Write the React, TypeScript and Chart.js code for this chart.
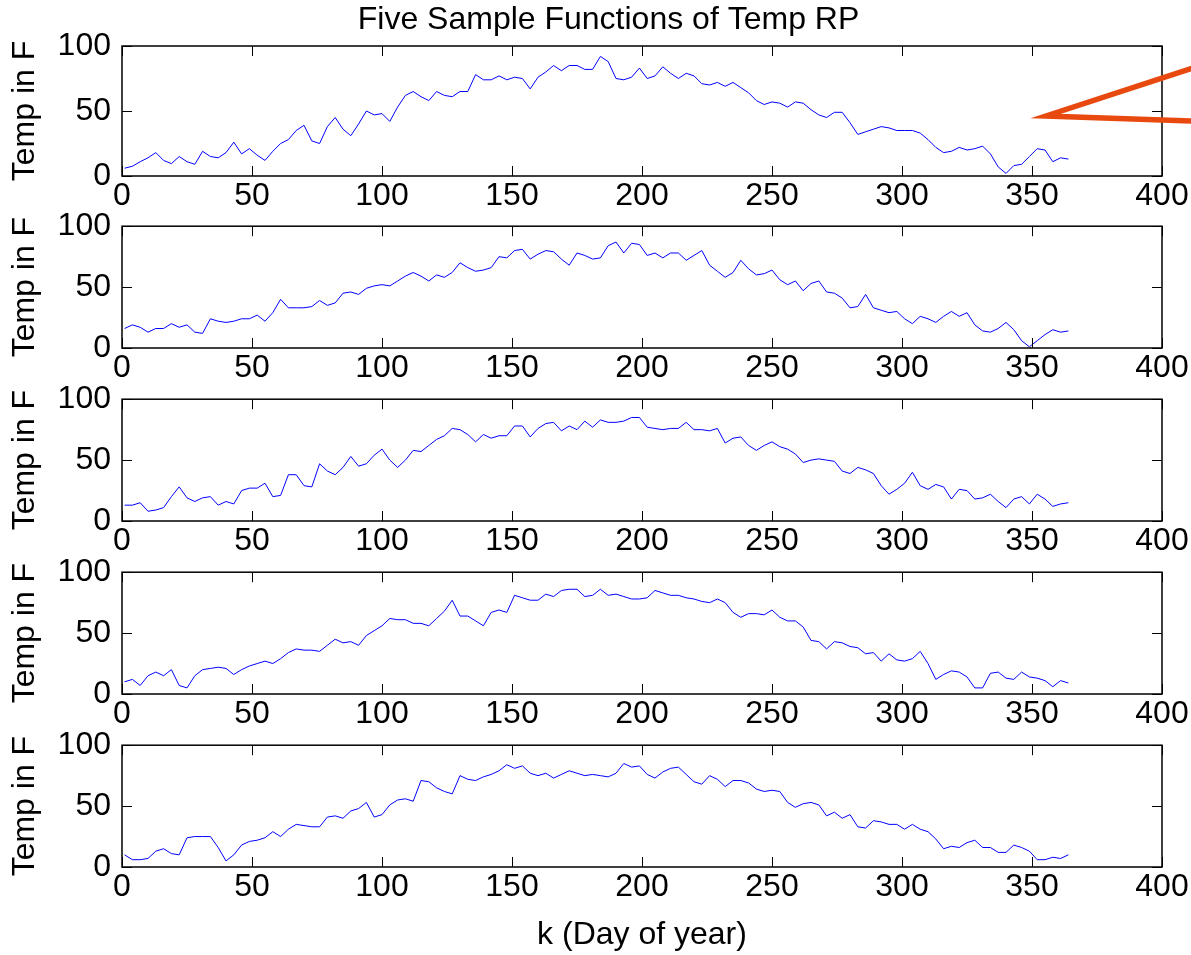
import React, { useEffect, useRef } from "react";
import { Chart, registerables } from "chart.js";

Chart.register(...registerables);

// ---------- data ----------
const TITLE = "Five Sample Functions of Temp RP";
const X_LABEL = "k (Day of year)";
const Y_LABEL = "Temp in F";

const X_TICKS = [0, 50, 100, 150, 200, 250, 300, 350, 400];
const Y_TICKS = [0, 50, 100];

const DAYS = [
  1, 4, 7, 10, 13, 16, 19, 22, 25, 28, 31, 34, 37, 40, 43, 46, 49, 52, 55, 58, 61, 64, 67, 70, 73, 76, 79, 82, 85, 88,
  91, 94, 97, 100, 103, 106, 109, 112, 115, 118, 121, 124, 127, 130, 133, 136, 139, 142, 145, 148, 151, 154, 157, 160,
  163, 166, 169, 172, 175, 178, 181, 184, 187, 190, 193, 196, 199, 202, 205, 208, 211, 214, 217, 220, 223, 226, 229,
  232, 235, 238, 241, 244, 247, 250, 253, 256, 259, 262, 265, 268, 271, 274, 277, 280, 283, 286, 289, 292, 295, 298,
  301, 304, 307, 310, 313, 316, 319, 322, 325, 328, 331, 334, 337, 340, 343, 346, 349, 352, 355, 358, 361, 364,
];

const TEMP_1 = [
  6, 7.5, 11, 14, 18, 12, 9.5, 15, 11, 9, 19, 15, 14, 18, 26, 17, 21, 16, 12, 19, 25, 28, 35, 39, 27, 25, 38, 45, 36, 31,
  40, 50, 47, 48, 42, 53, 62, 65, 61, 58, 65, 62, 61, 65, 65, 78, 74, 74, 77, 74, 76, 75, 67, 76, 80, 85, 81, 85, 85, 82,
  82, 92, 88, 75, 74, 76, 83, 75, 77, 84, 79, 75, 79, 77, 71, 70, 72, 69, 72, 68, 64, 58, 55, 57, 56, 53, 57, 56, 51, 47,
  45, 49, 49, 41, 32, 34, 36, 38, 37, 35, 35, 35, 33, 28, 22, 18, 19, 22, 20, 21, 23, 17, 7, 2, 8, 9, 15, 21, 20, 11, 14, 13,
];

const TEMP_2 = [
  16, 19, 17, 13, 16, 16, 20, 17, 19, 13, 12, 24, 22, 21, 22, 24, 24, 27, 22, 29, 40, 33, 33, 33, 34, 39, 35, 37, 45, 46,
  44, 49, 51, 52, 51, 55, 59, 62, 59, 55, 60, 58, 62, 70, 66, 63, 64, 66, 75, 74, 80, 81, 73, 77, 80, 79, 73, 68, 78, 76,
  73, 74, 84, 87, 78, 86, 85, 76, 78, 74, 78, 78, 72, 76, 80, 68, 63, 58, 62, 72, 65, 60, 61, 64, 56, 52, 55, 47, 53, 55,
  46, 45, 41, 33, 34, 44, 33, 31, 29, 30, 24, 20, 26, 24, 21, 26, 30, 26, 29, 19, 14, 13, 16, 21, 15, 6, 1, 6, 11, 15, 13, 14,
];

const TEMP_3 = [
  13, 13, 15, 8, 9, 11, 20, 28, 19, 16, 19, 20, 13, 16, 14, 25, 27, 27, 31, 20, 21, 38, 38, 29, 28, 47, 41, 38, 44, 53,
  45, 47, 54, 59, 50, 44, 50, 58, 57, 62, 67, 70, 76, 75, 71, 65, 71, 68, 70, 70, 78, 78, 69, 76, 80, 81, 74, 78, 75, 82,
  77, 83, 81, 81, 82, 85, 85, 77, 76, 75, 76, 76, 81, 75, 75, 74, 76, 64, 68, 69, 62, 58, 62, 65, 61, 59, 55, 48, 50, 51,
  50, 49, 41, 39, 44, 42, 39, 29, 22, 26, 31, 40, 29, 26, 30, 28, 18, 26, 25, 18, 19, 22, 16, 11, 18, 20, 14, 22, 18, 12, 14, 15,
];

const TEMP_4 = [
  10, 12, 7, 15, 18, 15, 20, 7, 5, 15, 20, 21, 22, 21, 16, 20, 23, 25, 27, 25, 29, 34, 37, 36, 36, 35, 40, 45, 42, 43,
  40, 48, 52, 56, 62, 61, 61, 58, 58, 56, 62, 68, 77, 64, 64, 60, 56, 67, 69, 67, 81, 79, 77, 77, 82, 80, 85, 86, 86, 80,
  81, 86, 81, 82, 80, 78, 78, 79, 85, 83, 81, 81, 79, 78, 76, 75, 78, 75, 67, 63, 66, 66, 65, 69, 63, 60, 60, 55, 44, 43,
  37, 43, 42, 39, 38, 33, 34, 27, 33, 28, 27, 29, 35, 25, 12, 16, 19, 18, 14, 5, 5, 17, 18, 13, 12, 18, 14, 13, 11, 6, 11, 9,
];

const TEMP_5 = [
  10, 6, 6, 7, 13, 15, 11, 10, 24, 25, 25, 25, 16, 5, 10, 18, 21, 22, 24, 29, 25, 31, 35, 34, 33, 33, 41, 42, 40, 46,
  48, 53, 41, 43, 51, 55, 56, 54, 71, 70, 65, 62, 60, 75, 72, 71, 74, 76, 79, 84, 81, 83, 77, 75, 77, 73, 76, 79, 77, 75,
  76, 75, 74, 77, 85, 82, 83, 76, 73, 78, 81, 82, 76, 70, 68, 75, 72, 66, 71, 71, 69, 64, 62, 63, 62, 53, 49, 52, 53, 51,
  42, 45, 40, 43, 33, 32, 38, 37, 35, 35, 31, 35, 31, 29, 23, 15, 17, 16, 20, 22, 16, 16, 12, 12, 18, 16, 13, 6, 6, 8, 7, 10,
];

const SERIES = [TEMP_1, TEMP_2, TEMP_3, TEMP_4, TEMP_5];

// callout arrow on the first panel, in data units (day, temp)
const ARROW_DAYS = [414.6, 355.4, 414.6];
const ARROW_TEMPS = [84.8, 46.2, 42.1];

// ---------- layout / style ----------
const FONT = "'Liberation Sans', Arial, Helvetica, sans-serif";
const FONT_SIZE = 32;
const PAGE_W = 1191;
const PAGE_H = 955;
const PLOT_LEFT = 122;
const PLOT_RIGHT = 1162;
const PLOT_H = 130;
const AXES_TOP = [46, 218, 391, 564, 737];
const TICK_LEN = 10;
const TITLE_SHIFT = 55; // left layout padding of the first panel, centres the title like the figure
const Y_TITLE_PAD = 6;

const boxPlugin = {
  id: "matlabBox",
  afterDatasetsDraw(chart: any) {
    const { ctx, chartArea } = chart;
    const { left, right, top, bottom } = chartArea;
    const xs = chart.scales.x;
    const ys = chart.scales.y;
    ctx.save();
    ctx.strokeStyle = "#000";
    ctx.lineWidth = 1;
    ctx.beginPath();
    X_TICKS.forEach((v) => {
      const px = Math.round(xs.getPixelForValue(v)) + 0.5;
      ctx.moveTo(px, bottom);
      ctx.lineTo(px, bottom - TICK_LEN);
      ctx.moveTo(px, top);
      ctx.lineTo(px, top + TICK_LEN);
    });
    Y_TICKS.forEach((v) => {
      const py = Math.round(ys.getPixelForValue(v)) + 0.5;
      ctx.moveTo(left, py);
      ctx.lineTo(left + TICK_LEN, py);
      ctx.moveTo(right, py);
      ctx.lineTo(right - TICK_LEN, py);
    });
    ctx.stroke();
    ctx.lineWidth = 1.5;
    ctx.strokeRect(left, top, right - left, bottom - top);
    ctx.restore();
  },
};

const arrowPlugin = {
  id: "calloutArrow",
  afterDraw(chart: any) {
    const { ctx } = chart;
    const xs = chart.scales.x;
    const ys = chart.scales.y;
    ctx.save();
    ctx.strokeStyle = "#E8490F";
    ctx.lineWidth = 5.5;
    ctx.lineJoin = "miter";
    ctx.miterLimit = 20;
    ctx.beginPath();
    ARROW_DAYS.forEach((d, i) => {
      const px = xs.getPixelForValue(d);
      const py = ys.getPixelForValue(ARROW_TEMPS[i]);
      if (i === 0) ctx.moveTo(px, py);
      else ctx.lineTo(px, py);
    });
    ctx.stroke();
    ctx.restore();
  },
};

function Subplot({ idx, values }: { idx: number; values: number[] }) {
  const ref = useRef<HTMLCanvasElement | null>(null);
  const first = idx === 0;
  const last = idx === SERIES.length - 1;
  const padTop = first ? 0 : 22;
  const padLeft = first ? TITLE_SHIFT : 0;
  const canvasTop = first ? 0 : AXES_TOP[idx] - padTop;
  const xAxisH = last ? PAGE_H - (AXES_TOP[idx] + PLOT_H) : 40;
  const height = AXES_TOP[idx] + PLOT_H + xAxisH - canvasTop;
  const width = PAGE_W;

  useEffect(() => {
    if (!ref.current) return;
    const tickFont = { family: FONT, size: FONT_SIZE, weight: "normal" as const };
    const chart = new Chart(ref.current, {
      type: "line",
      data: {
        datasets: [
          {
            data: DAYS.map((d, i) => ({ x: d, y: values[i] })),
            borderColor: "#0000FF",
            borderWidth: 1,
            pointRadius: 0,
            tension: 0,
            fill: false,
          },
        ],
      },
      options: {
        responsive: false,
        animation: false,
        devicePixelRatio: 1,
        layout: { padding: { top: padTop, left: padLeft, right: width - PLOT_RIGHT, bottom: 0 } },
        plugins: {
          legend: { display: false },
          tooltip: { enabled: false },
          title: first
            ? {
                display: true,
                text: TITLE,
                color: "#000",
                font: { family: FONT, size: FONT_SIZE, weight: "normal" },
                padding: { top: 1, bottom: 6.6 },
              }
            : { display: false },
        },
        scales: {
          x: {
            type: "linear",
            min: 0,
            max: 400,
            afterBuildTicks: (s: any) => {
              s.ticks = X_TICKS.map((v) => ({ value: v }));
            },
            afterFit: (s: any) => {
              s.height = xAxisH;
            },
            grid: { display: false, drawTicks: false },
            border: { display: false },
            ticks: { color: "#000", font: tickFont, padding: 1, maxRotation: 0, autoSkip: false },
            title: last
              ? {
                  display: true,
                  text: X_LABEL,
                  color: "#000",
                  font: tickFont,
                  padding: { top: 0, bottom: 1 },
                }
              : { display: false },
          },
          y: {
            type: "linear",
            min: 0,
            max: 100,
            afterBuildTicks: (s: any) => {
              s.ticks = Y_TICKS.map((v) => ({ value: v }));
            },
            afterFit: (s: any) => {
              s.width = PLOT_LEFT - padLeft;
            },
            grid: { display: false, drawTicks: false },
            border: { display: false },
            ticks: { color: "#000", font: tickFont, padding: 11, autoSkip: false },
            title: {
              display: true,
              text: Y_LABEL,
              color: "#000",
              font: tickFont,
              padding: { top: Y_TITLE_PAD - padLeft, bottom: 0 },
            },
          },
        },
      } as any,
      plugins: first ? [boxPlugin, arrowPlugin] : [boxPlugin],
    });
    return () => chart.destroy();
  }, []);

  return (
    <canvas
      ref={ref}
      width={width}
      height={height}
      style={{ position: "absolute", left: 0, top: canvasTop, width, height }}
    />
  );
}

export default function App() {
  return (
    <div
      style={{
        position: "fixed",
        left: 0,
        top: 0,
        width: PAGE_W,
        height: PAGE_H,
        overflow: "hidden",
        background: "#fff",
      }}
    >
      {SERIES.map((v, i) => (
        <Subplot key={i} idx={i} values={v} />
      ))}
    </div>
  );
}
